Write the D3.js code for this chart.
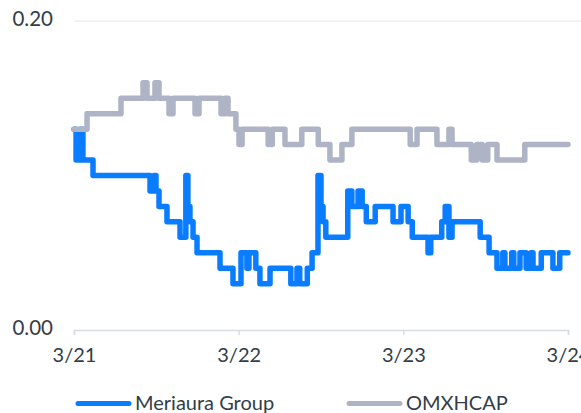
<!DOCTYPE html>
<html>
<head>
<meta charset="utf-8">
<script src="https://cdn.jsdelivr.net/npm/d3@7"></script>
<style>
  body { margin: 0; background: #fff; }
  svg { display: block; font-family: Lato, 'Open Sans', sans-serif; }
</style>
</head>
<body>
<div id="chart"></div>
<script>
// hours after 3/21 00:00 and the value from that moment on
const meriauraHours = [0, 0.3, 1.0, 1.3, 2.77, 11.08, 11.66, 11.95, 12.39, 13.55, 15.45, 16.3, 16.6, 16.9, 17.35, 17.93,
  21.28, 23.17, 24.34, 25.2, 25.5, 26.5, 27.1, 28.57, 31.6, 32.5, 32.9, 34.0, 34.7, 35.56, 36.0, 36.3, 36.7,
  39.9, 40.5, 41.4, 42.0, 42.6, 43.9, 46.5, 47.66, 48.7, 49.3, 51.6, 52.0, 53.6, 54.1, 54.65, 55.1, 59.2,
  60.5, 61.65, 62.5, 62.8, 63.8, 64.1, 65.0, 65.9, 66.6, 66.9, 68.1, 69.8, 70.8, 72]
const meriauraValues = [0.13, 0.11, 0.13, 0.11, 0.10, 0.09, 0.10, 0.09, 0.08, 0.07, 0.06, 0.10, 0.08, 0.07, 0.06, 0.05,
  0.04, 0.03, 0.05, 0.04, 0.05, 0.04, 0.03, 0.04, 0.03, 0.04, 0.03, 0.04, 0.05, 0.10, 0.08, 0.07, 0.06,
  0.09, 0.08, 0.09, 0.08, 0.07, 0.08, 0.07, 0.08, 0.07, 0.06, 0.05, 0.06, 0.07, 0.08, 0.06, 0.07, 0.06,
  0.05, 0.04, 0.05, 0.04, 0.05, 0.04, 0.05, 0.04, 0.05, 0.04, 0.05, 0.04, 0.05, 0.05]

const omxHours = [0, 1.9, 6.85, 10.06, 10.64, 11.8, 12.39, 13.85, 14.43, 17.64, 18.22, 21.43, 22.0, 22.45, 23.6,
  24.05, 24.5, 28.3, 28.9, 30.75, 33.2, 35.6, 37.3, 39.05, 40.5, 49.0, 50.0, 52.9, 54.65, 55.1, 57.9, 58.7,
  59.5, 60.3, 61.65, 65.7, 72]
const omxValues = [0.13, 0.14, 0.15, 0.16, 0.15, 0.16, 0.15, 0.14, 0.15, 0.14, 0.15, 0.14, 0.15, 0.14, 0.13,
  0.12, 0.13, 0.12, 0.13, 0.12, 0.13, 0.12, 0.11, 0.12, 0.13, 0.12, 0.13, 0.12, 0.13, 0.12, 0.11, 0.12,
  0.11, 0.12, 0.11, 0.12, 0.12]

const seriesNames = ['Meriaura Group', 'OMXHCAP']
const seriesColors = ['#0a7cff', '#aeb4c5']
const yTicks = [0, 0.2]
const xTickDates = ['2021-03-21', '2021-03-22', '2021-03-23', '2021-03-24']

const width = 581
const height = 413
const margin = { top: 21, right: 13, bottom: 83, left: 74 }
const innerW = width - margin.left - margin.right
const innerH = height - margin.top - margin.bottom

const start = new Date(2021, 2, 21)
const toDate = h => new Date(start.getTime() + h * 3600 * 1000)

const x = d3.scaleTime()
  .range([0, innerW])
  .domain([start, new Date(2021, 2, 24)])

const y = d3.scaleLinear()
  .range([innerH, 0])
  .domain([0, 0.2])

const svg = d3.select('#chart').append('svg')
  .attr('width', width)
  .attr('height', height)

const g = svg.append('g')
  .attr('transform', 'translate(' + margin.left + ',' + margin.top + ')')

// grid line at 0.20
g.append('line')
  .attr('x1', 0)
  .attr('x2', width - margin.left)
  .attr('y1', y(0.2))
  .attr('y2', y(0.2))
  .attr('stroke', '#e6e8ec')
  .attr('stroke-width', 1)

// y labels
g.selectAll('.y-label')
  .data(yTicks)
  .enter().append('text')
  .attr('class', 'y-label')
  .attr('x', -21)
  .attr('y', d => y(d))
  .attr('dy', 5)
  .attr('text-anchor', 'end')
  .attr('fill', '#333d47')
  .style('font-size', '20.5px')
  .text(d => d3.format('.2f')(d))

// x axis
const xAxis = d3.axisBottom(x)
  .tickValues(xTickDates.map(d => d3.timeParse('%Y-%m-%d')(d)))
  .tickFormat(d3.timeFormat('%-m/%-d'))
  .tickSize(5)
  .tickSizeOuter(5)
  .tickPadding(13)

const xg = g.append('g')
  .attr('transform', 'translate(0,' + innerH + ')')
  .call(xAxis)
xg.select('.domain').attr('stroke', '#d8dce3').attr('stroke-width', 1.5)
xg.selectAll('.tick line').attr('stroke', '#d8dce3').attr('stroke-width', 1.5)
xg.selectAll('.tick text')
  .attr('fill', '#333d47')
  .style('font-size', '20px')
  .style('font-family', 'Lato, "Open Sans", sans-serif')

const line = d3.line()
  .x(d => x(d.date))
  .y(d => y(d.value))
  .curve(d3.curveStepAfter)

const series = [
  meriauraHours.map((h, i) => ({ date: toDate(h), value: meriauraValues[i] })),
  omxHours.map((h, i) => ({ date: toDate(h), value: omxValues[i] }))
]

series.forEach((data, i) => {
  g.append('path')
    .datum(data)
    .attr('fill', 'none')
    .attr('stroke', seriesColors[i])
    .attr('stroke-width', 5.5)
    .attr('stroke-linejoin', 'round')
    .attr('stroke-linecap', 'round')
    .attr('d', line)
})

// legend
const legend = svg.append('g')
  .attr('transform', 'translate(0,403.5)')

const legendX = [76, 347]
seriesNames.forEach((name, i) => {
  legend.append('line')
    .attr('x1', legendX[i] + 2)
    .attr('x2', legendX[i] + 53)
    .attr('y1', 0)
    .attr('y2', 0)
    .attr('stroke', seriesColors[i])
    .attr('stroke-width', 5)
    .attr('stroke-linecap', 'round')
  legend.append('text')
    .attr('x', legendX[i] + 59)
    .attr('y', 6.5)
    .attr('fill', '#333d47')
    .style('font-size', '20px')
    .text(name)
})
</script>
</body>
</html>
